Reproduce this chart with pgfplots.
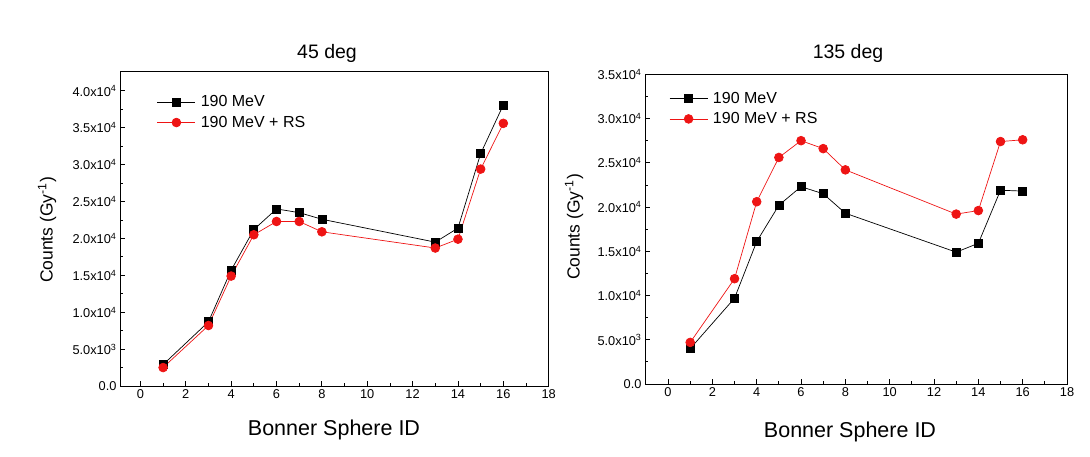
\documentclass[border=0pt]{standalone}
\usepackage{fontspec}
\setmainfont{Liberation Sans}
\usepackage{pgfplots}
\pgfplotsset{compat=1.18}
\definecolor{myred}{RGB}{238,20,20}
\pgfplotsset{
 myaxis/.style={
  scale only axis, axis line style={line width=1pt},
  scaled y ticks=false, scaled x ticks=false,
  tick align=inside, xtick pos=left, ytick pos=left,
  major tick length=5pt, minor tick length=3pt,
  every tick/.style={black, line width=0.8pt},
  xmax=18,
  xtick={0,2,...,18}, xticklabels={0,2,4,6,8,10,12,14,16,18},
  minor x tick num=1, minor y tick num=1,
  ticklabel style={font=\fontsize{12.8}{14}\selectfont},
  legend style={draw=none, fill=none, font=\fontsize{16}{18}\selectfont, anchor=north west, row sep=6pt, inner sep=0pt, nodes={inner sep=1pt},
    /tikz/every odd column/.append style={column sep=4pt}},
  legend cell align=left,
  legend image code/.code={\draw[mark repeat=2,mark phase=2] plot coordinates {(0pt,0pt) (19pt,0pt) (38pt,0pt)};},
 },
 blk/.style={black, line width=0.7pt, mark=square*, mark size=4pt, mark options={solid}},
 rd/.style={myred, line width=0.7pt, mark=*, mark size=4.4pt, mark options={solid}},
}
\begin{document}
\begin{tikzpicture}
\useasboundingbox (0pt,0pt) rectangle (1090pt,456pt);
% ---------- 45 deg ----------
\begin{axis}[myaxis, at={(120pt,70pt)}, anchor=south west,
  width=428.7pt, height=314.3pt,
  xmin=-0.9, ymin=0, ymax=42600,
  ytick={0,5000,...,40000},
  yticklabels={0.0, 5.0x10\textsuperscript{3}, 1.0x10\textsuperscript{4}, 1.5x10\textsuperscript{4}, 2.0x10\textsuperscript{4}, 2.5x10\textsuperscript{4}, 3.0x10\textsuperscript{4}, 3.5x10\textsuperscript{4}, 4.0x10\textsuperscript{4}},
  legend style={at={(0.086,0.928)}},
]
\addplot[blk] coordinates {(1,2900) (3,8700) (4,15700) (5,21200) (6,24000) (7,23500) (8,22600) (13,19500) (14,21400) (15,31500) (16,38100)};
\addlegendentry{190 MeV}
\addplot[rd] coordinates {(1,2500) (3,8200) (4,14900) (5,20500) (6,22300) (7,22300) (8,20900) (13,18700) (14,19900) (15,29400) (16,35600)};
\addlegendentry{190 MeV + RS}
\end{axis}
% ---------- 135 deg ----------
\begin{axis}[myaxis, at={(645pt,72pt)}, anchor=south west,
  width=422pt, height=309.7pt,
  xmin=-1.04, ymin=0, ymax=35000,
  ytick={0,5000,...,35000},
  yticklabels={0.0, 5.0x10\textsuperscript{3}, 1.0x10\textsuperscript{4}, 1.5x10\textsuperscript{4}, 2.0x10\textsuperscript{4}, 2.5x10\textsuperscript{4}, 3.0x10\textsuperscript{4}, 3.5x10\textsuperscript{4}},
  legend style={at={(0.057,0.947)}},
]
\addplot[blk] coordinates {(1,4000) (3,9700) (4,16100) (5,20200) (6,22300) (7,21500) (8,19300) (13,14900) (14,15900) (15,21900) (16,21800)};
\addlegendentry{190 MeV}
\addplot[rd] coordinates {(1,4700) (3,11900) (4,20600) (5,25600) (6,27500) (7,26600) (8,24200) (13,19200) (14,19600) (15,27400) (16,27600)};
\addlegendentry{190 MeV + RS}
\end{axis}
% ---------- titles and labels ----------
\node[anchor=base, font=\fontsize{19.5}{22}\selectfont] at (327pt,397.7pt) {45 deg};
\node[anchor=base, font=\fontsize{19.5}{22}\selectfont] at (848pt,397.7pt) {135 deg};
\node[anchor=base, font=\fontsize{21.5}{24}\selectfont] at (334pt,21pt) {Bonner Sphere ID};
\node[anchor=base, font=\fontsize{21.5}{24}\selectfont] at (850pt,19pt) {Bonner Sphere ID};
\node[rotate=90, font=\fontsize{17.5}{20}\selectfont] at (47pt,226pt) {Counts (Gy\textsuperscript{-1})};
\node[rotate=90, font=\fontsize{17.5}{20}\selectfont] at (574pt,229pt) {Counts (Gy\textsuperscript{-1})};
\end{tikzpicture}
\end{document}
